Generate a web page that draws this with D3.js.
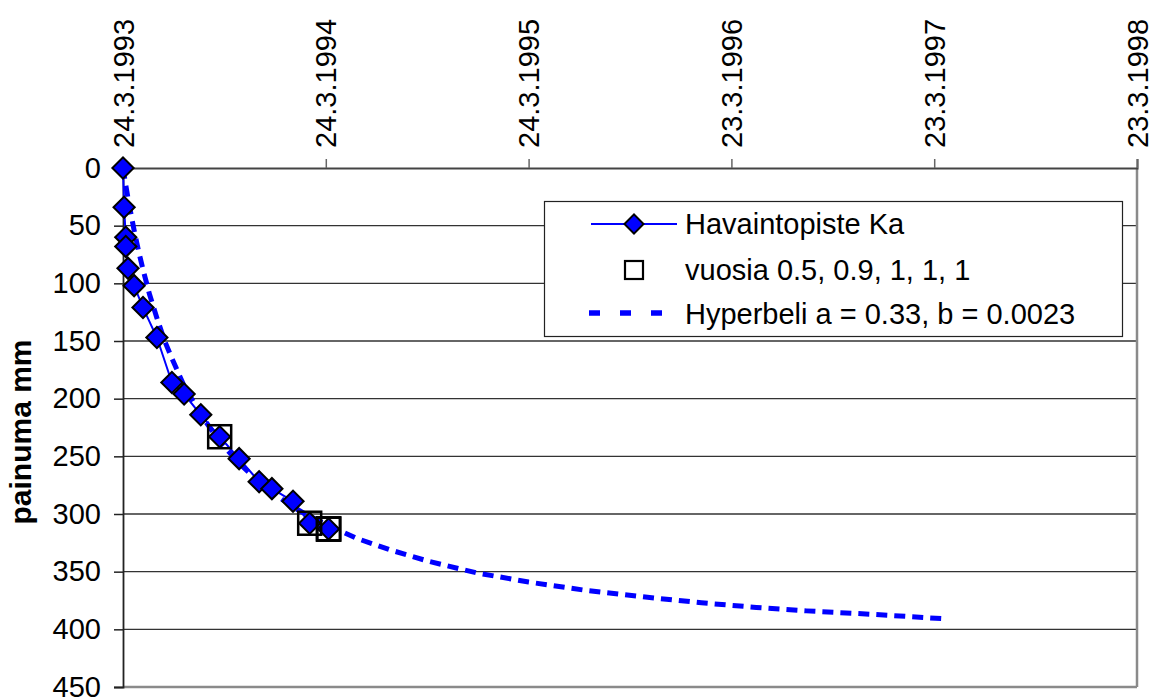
<!DOCTYPE html>
<html>
<head>
<meta charset="utf-8">
<script src="https://cdn.jsdelivr.net/npm/d3@7"></script>
<style>
  html, body { margin: 0; padding: 0; background: #fff; }
  svg { display: block; font-family: "Liberation Sans", Arial, sans-serif; }
</style>
</head>
<body>
<svg id="chart" width="1155" height="698"></svg>
<script>
// ---- data (days since 24.3.1993, settlement in mm) ----
const obsDays = [0, 2, 5, 5, 9, 20, 36, 61, 88, 110, 140, 174, 209, 245, 268, 306, 336, 370];
const obsMm   = [0, 34, 60, 68, 87, 102, 121, 147, 186, 196, 214, 233, 252, 272, 278, 289, 308, 313];

const yearDays = [174, 336, 370, 370, 370];
const yearMm   = [233, 308, 313, 313, 313];

const fitDays = [0, 2, 5, 9, 14, 20, 28, 36, 48, 61, 75, 88, 110, 140, 174, 209, 245, 268, 306, 336, 370, 420, 480, 550, 636, 730, 830, 940, 1041, 1140, 1230, 1350, 1483];
const fitMm   = [0, 6, 15, 26, 39, 54, 72, 88, 110, 130, 150, 165, 189, 214, 237, 256, 272, 281, 294, 302, 310, 321, 331, 341, 351, 359, 366, 372, 377, 381, 384, 387, 391];

const xTickDays   = [0, 365, 730, 1095, 1460, 1825];
const xTickLabels = ["24.3.1993", "24.3.1994", "24.3.1995", "23.3.1996", "23.3.1997", "23.3.1998"];
const yTicks = [0, 50, 100, 150, 200, 250, 300, 350, 400, 450];

const legendLabels = ["Havaintopiste Ka", "vuosia 0.5, 0.9, 1, 1, 1", "Hyperbeli a = 0.33, b = 0.0023"];
const axisTitle = "painuma mm";

// ---- layout ----
const L = 123, R = 1137, T = 168, B = 687;
const svg = d3.select("#chart");
const x = d3.scaleLinear().domain([0, 1825]).range([L, R]);
const y = d3.scaleLinear().domain([0, 450]).range([T, B]);

// gridlines
svg.append("g").selectAll("line").data(yTicks.filter(d => d > 0 && d < 450)).join("line")
  .attr("x1", L).attr("x2", R).attr("y1", d => y(d)).attr("y2", d => y(d))
  .attr("stroke", "#333").attr("stroke-width", 1.3);

// plot borders (right & bottom gray)
svg.append("line").attr("x1", R).attr("x2", R).attr("y1", T).attr("y2", B)
  .attr("stroke", "#8a8a8a").attr("stroke-width", 2.5);
svg.append("line").attr("x1", L).attr("x2", R).attr("y1", B).attr("y2", B)
  .attr("stroke", "#8a8a8a").attr("stroke-width", 2.5);

// left axis
const yAxis = d3.axisLeft(y).tickValues(yTicks).tickSize(9).tickPadding(13).tickFormat(d3.format("d"));
const gy = svg.append("g").attr("transform", `translate(${L},0)`).call(yAxis);
gy.select(".domain").attr("stroke", "#222").attr("stroke-width", 1.8);
gy.selectAll(".tick line").attr("stroke", "#222").attr("stroke-width", 1.5);
gy.selectAll(".tick text").attr("font-size", 29).attr("fill", "#000")
  .attr("font-family", "'Liberation Sans', Arial, sans-serif");

// top axis
const xAxis = d3.axisTop(x).tickValues(xTickDays).tickSize(9).tickFormat((d, i) => xTickLabels[i]);
const gx = svg.append("g").attr("transform", `translate(0,${T})`).call(xAxis);
gx.select(".domain").attr("stroke", "#444").attr("stroke-width", 2);
gx.selectAll(".tick line").attr("stroke", "#666").attr("stroke-width", 1.5);
gx.selectAll(".tick text")
  .attr("font-size", 29).attr("fill", "#000")
  .attr("font-family", "'Liberation Sans', Arial, sans-serif")
  .attr("text-anchor", "start")
  .attr("transform", "translate(0,-20) rotate(-90)")
  .attr("x", 0).attr("y", 0).attr("dy", "0.35em");

// axis title
svg.append("text")
  .attr("transform", "translate(31,432) rotate(-90)")
  .attr("text-anchor", "middle")
  .attr("font-size", 30).attr("font-weight", "bold")
  .text(axisTitle);

// fit (dashed)
const fitData = fitDays.map((d, i) => [d, fitMm[i]]);
const obsData = obsDays.map((d, i) => [d, obsMm[i]]);
const yrData = yearDays.map((d, i) => [d, yearMm[i]]);
const line = d3.line().x(d => x(d[0])).y(d => y(d[1]));

svg.append("path").datum(fitData).attr("d", line)
  .attr("fill", "none").attr("stroke", "#0000ff").attr("stroke-width", 5)
  .attr("stroke-dasharray", "11,7");

// observed line
svg.append("path").datum(obsData).attr("d", line)
  .attr("fill", "none").attr("stroke", "#0000ff").attr("stroke-width", 2);

// diamonds
const diamond = d3.symbol().type(d3.symbolSquare).size(15 * 15);
svg.append("g").selectAll("path").data(obsData).join("path")
  .attr("d", diamond)
  .attr("transform", d => `translate(${x(d[0])},${y(d[1])}) rotate(45)`)
  .attr("fill", "#0000ff").attr("stroke", "#000").attr("stroke-width", 2);

// squares
svg.append("g").selectAll("rect").data(yrData).join("rect")
  .attr("x", d => x(d[0]) - 11.5).attr("y", d => y(d[1]) - 11.5)
  .attr("width", 23).attr("height", 23)
  .attr("fill", "none").attr("stroke", "#000").attr("stroke-width", 2.5);

// legend
const lg = svg.append("g");
lg.append("rect").attr("x", 544.5).attr("y", 201.5).attr("width", 578).attr("height", 135)
  .attr("fill", "#fff").attr("stroke", "#222").attr("stroke-width", 1.2);
const rows = [224, 270, 314];
// row 1
lg.append("line").attr("x1", 591).attr("x2", 677).attr("y1", rows[0]).attr("y2", rows[0])
  .attr("stroke", "#0000ff").attr("stroke-width", 2);
lg.append("path").attr("d", d3.symbol().type(d3.symbolSquare).size(13.5 * 13.5))
  .attr("transform", `translate(634,${rows[0]}) rotate(45)`)
  .attr("fill", "#0000ff").attr("stroke", "#000").attr("stroke-width", 2);
// row 2
lg.append("rect").attr("x", 625).attr("y", rows[1] - 9).attr("width", 18).attr("height", 18)
  .attr("fill", "none").attr("stroke", "#000").attr("stroke-width", 2.2);
// row 3
lg.append("line").attr("x1", 589).attr("x2", 662).attr("y1", rows[2] - 1).attr("y2", rows[2] - 1)
  .attr("stroke", "#0000ff").attr("stroke-width", 5.5).attr("stroke-dasharray", "11,20");
lg.selectAll("text").data(legendLabels).join("text")
  .attr("x", 685).attr("y", (d, i) => rows[i]).attr("dy", "0.35em")
  .attr("font-size", 29).attr("fill", "#000")
  .text(d => d);
</script>
</body>
</html>
